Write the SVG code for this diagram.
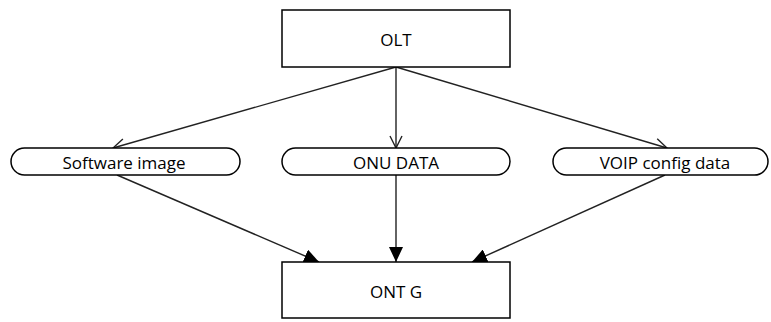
<svg xmlns="http://www.w3.org/2000/svg" width="771" height="322" viewBox="0 0 771 322">
<style>
.box{fill:#fff;stroke:#000;stroke-width:1.5}
.lbl{font-family:"Open Sans","Liberation Sans",sans-serif;font-size:17px;fill:#000;text-anchor:middle;dominant-baseline:central}
.edge{stroke:#222;stroke-width:1.4;fill:none}
</style>
<defs>
<marker id="open" viewBox="0 0 14 14" refX="13" refY="7" markerWidth="14" markerHeight="14" markerUnits="userSpaceOnUse" orient="auto">
<path d="M1,1 L13,7 L1,13" fill="none" stroke="#222" stroke-width="1.4"/>
</marker>
<marker id="fill" viewBox="0 0 15 14" refX="15" refY="7" markerWidth="15" markerHeight="14" markerUnits="userSpaceOnUse" orient="auto">
<path d="M0,0 L15,7 L0,14 Z" fill="#000"/>
</marker>
</defs>
<g id="edges">
<line class="edge" x1="396" y1="67" x2="113" y2="148" marker-end="url(#open)"/>
<line class="edge" x1="396" y1="67" x2="396" y2="148" marker-end="url(#open)"/>
<line class="edge" x1="396" y1="67" x2="667" y2="148" marker-end="url(#open)"/>
<line class="edge" x1="117" y1="175" x2="319" y2="262" marker-end="url(#fill)"/>
<line class="edge" x1="396" y1="175" x2="396" y2="262" marker-end="url(#fill)"/>
<line class="edge" x1="665" y1="175" x2="472" y2="262" marker-end="url(#fill)"/>
</g>
<g id="olt">
<rect class="box" x="282" y="10" width="228" height="57"/>
<text class="lbl" x="396" y="39">OLT</text>
</g>
<g id="software">
<rect class="box" x="11" y="148" width="229" height="27" rx="13.5"/>
<text class="lbl" x="124" y="162">Software image</text>
</g>
<g id="onu">
<rect class="box" x="282" y="148" width="228" height="27" rx="13.5"/>
<text class="lbl" x="396" y="162">ONU DATA</text>
</g>
<g id="voip">
<rect class="box" x="553" y="148" width="215" height="27" rx="13.5"/>
<text class="lbl" x="665" y="162">VOIP config data</text>
</g>
<g id="ontg">
<rect class="box" x="282" y="262" width="228" height="56"/>
<text class="lbl" x="396" y="291">ONT G</text>
</g>
</svg>
